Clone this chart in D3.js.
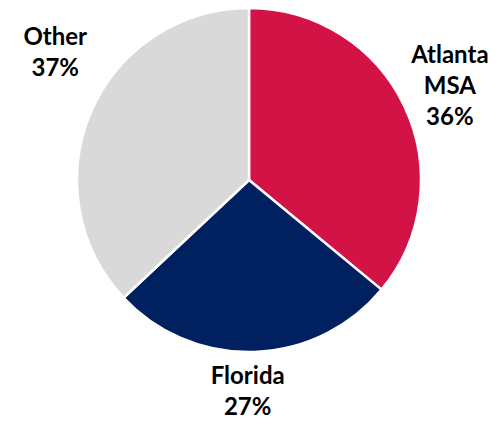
<!DOCTYPE html>
<html>
<head>
<meta charset="utf-8">
<script src="https://cdn.jsdelivr.net/npm/d3@7"></script>
<style>
  html, body { margin: 0; padding: 0; background: #ffffff; }
  svg { display: block; }
  text { font-family: Lato, "Open Sans", sans-serif; font-weight: bold; fill: #000000; }
</style>
</head>
<body>
<svg id="chart" width="496" height="422"></svg>
<script>
// Share of total by region
const categories = ["Atlanta MSA", "Florida", "Other"];
const shares = [36, 27, 37];
const labelLines = [["Atlanta", "MSA", "36%"], ["Florida", "27%"], ["Other", "37%"]];
const colors = ["#D31245", "#002060", "#D9D9D9"];

const width = 496, height = 422;
const cx = 249, cy = 180, radius = 172;

const svg = d3.select("#chart");
const g = svg.append("g").attr("transform", `translate(${cx},${cy})`);

const pie = d3.pie().sort(null).value(d => d.value);
const arcs = pie(categories.map((c, i) => ({ name: c, value: shares[i], color: colors[i], lines: labelLines[i] })));

const arc = d3.arc().innerRadius(0).outerRadius(radius);

g.selectAll("path.slice")
  .data(arcs)
  .join("path")
  .attr("class", "slice")
  .attr("d", arc)
  .attr("fill", d => d.data.color)
  .attr("stroke", "#ffffff")
  .attr("stroke-width", 2.5)
  .attr("stroke-linejoin", "round");

// Outside-end labels: each block sits just beyond the rim along its slice,
// pushed outward so the whole text box clears the pie.
const fontSize = 24, lineGap = 31;
const labelOffset = {
  "Atlanta MSA": { dist: 222, dx: 0, dy: 0 },
  "Florida": { dist: 213, dx: -8, dy: -2 },
  "Other": { dist: 222, dx: 10, dy: -40 }
};

arcs.forEach(d => {
  const mid = (d.startAngle + d.endAngle) / 2;
  const o = labelOffset[d.data.name];
  const x = Math.sin(mid) * o.dist + o.dx;
  const y = -Math.cos(mid) * o.dist + o.dy;
  const n = d.data.lines.length;
  const t = g.append("text")
    .attr("text-anchor", "middle")
    .attr("font-size", fontSize);
  d.data.lines.forEach((line, i) => {
    t.append("tspan")
      .attr("x", x)
      .attr("y", y + (i - (n - 1) / 2) * lineGap + fontSize * 0.35)
      .text(line);
  });
});
</script>
</body>
</html>
